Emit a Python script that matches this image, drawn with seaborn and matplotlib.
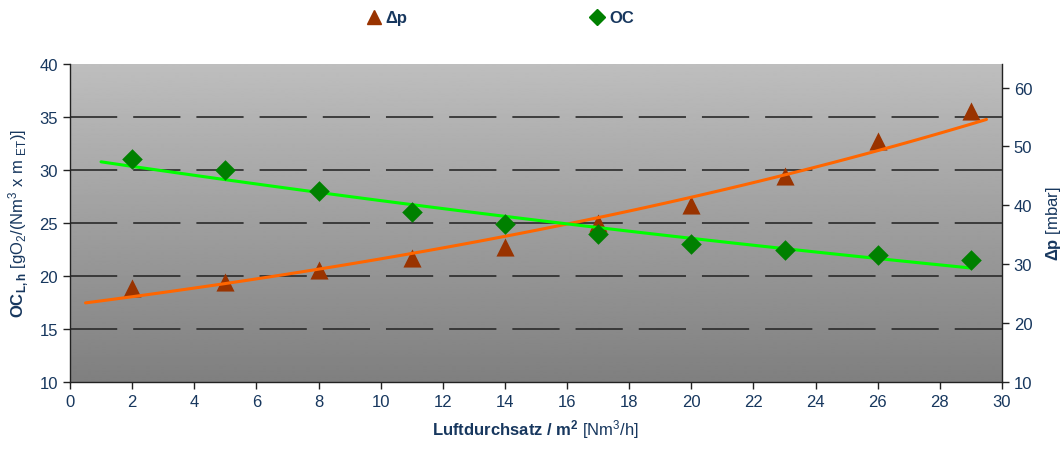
import numpy as np
import pandas as pd
import matplotlib
matplotlib.use("Agg")
import matplotlib.pyplot as plt
from matplotlib.lines import Line2D
import seaborn as sns

# ---- data ----
airflow = [2, 5, 8, 11, 14, 17, 20, 23, 26, 29]
oc_values = [31.0, 30.0, 28.0, 26.0, 24.9, 24.0, 23.0, 22.5, 22.0, 21.5]
dp_values = [26.0, 27.0, 29.0, 31.0, 33.0, 37.0, 40.0, 45.0, 51.0, 56.0]
x_ticks = list(range(0, 31, 2))
left_ticks = [10, 15, 20, 25, 30, 35, 40]
right_ticks = [10, 20, 30, 40, 50, 60]

sns.set_theme(style="ticks")
plt.rcParams['font.family'] = ['Liberation Sans', 'DejaVu Sans']
plt.rcParams['mathtext.fontset'] = 'custom'
plt.rcParams['mathtext.rm'] = 'Liberation Sans'
plt.rcParams['mathtext.bf'] = 'Liberation Sans:bold'
plt.rcParams['mathtext.it'] = 'Liberation Sans:italic'
plt.rcParams['lines.scale_dashes'] = False

navy = '#17375e'
tri_col = '#993300'
dia_col = '#008000'
orange = '#ff6600'
lime = '#00ff00'

df = pd.DataFrame({'x': airflow, 'oc': oc_values, 'dp': dp_values})

# exponential trend lines fitted to the data
kd, ld = np.polyfit(df['x'], np.log(df['dp']), 1)
ko, lo = np.polyfit(df['x'], np.log(df['oc']), 1)
xd = np.linspace(df['x'].min() - 1.5, df['x'].max() + 0.5, 60)
xo = np.linspace(df['x'].min() - 1.0, df['x'].max(), 60)
trend_dp = pd.DataFrame({'x': xd, 'y': np.exp(ld + kd * xd)})
trend_oc = pd.DataFrame({'x': xo, 'y': np.exp(lo + ko * xo)})

fig = plt.figure(figsize=(10.62, 4.52), dpi=100)
rect = [70 / 1062, 1 - 383 / 452, (1002 - 70) / 1062, (383 - 65) / 452]

# background axes: gradient + dashed grid
bg = fig.add_axes(rect, zorder=0)
grad = np.linspace(0.745, 0.50, 256).reshape(-1, 1)
bg.imshow(grad, extent=[0, 30, 10, 40], cmap='gray', vmin=0, vmax=1,
          aspect='auto', zorder=0, interpolation='bilinear')
bg.set_xlim(0, 30)
bg.set_ylim(10, 40)
for v in left_ticks[1:-1]:
    bg.axhline(v, color='#2a2a2a', lw=1.2, linestyle=(0, (34, 11.5)), zorder=1)
bg.axis('off')

ax2 = fig.add_axes(rect, zorder=1)
ax = fig.add_axes(rect, zorder=2, sharex=ax2)
ax.patch.set_visible(False)
ax2.patch.set_visible(False)
ax2.yaxis.tick_right()
ax2.yaxis.set_label_position('right')

ax.set_xlim(0, 30)
ax.set_ylim(10, 40)
ax2.set_ylim(10, 64)
ax.set_xticks(x_ticks)
ax.set_yticks(left_ticks)
ax2.set_yticks(right_ticks)

# dp on right axis
sns.lineplot(data=trend_dp, x='x', y='y', ax=ax2, color=orange, lw=2.2, zorder=3)
sns.scatterplot(data=df, x='x', y='dp', ax=ax2, marker='^', s=170, color=tri_col,
                edgecolor=tri_col, linewidth=0, zorder=2)
# OC on left axis
sns.lineplot(data=trend_oc, x='x', y='y', ax=ax, color=lime, lw=2.2, zorder=3)
sns.scatterplot(data=df, x='x', y='oc', ax=ax, marker='D', s=110, color=dia_col,
                edgecolor=dia_col, linewidth=0, zorder=4)

for a in (ax, ax2):
    a.spines['top'].set_visible(False)
    a.tick_params(colors='#222222', labelcolor=navy, labelsize=12, length=5, width=1,
                  direction='out')
    for s in a.spines.values():
        s.set_color('#222222')
        s.set_linewidth(1)
ax.spines['right'].set_visible(False)
ax2.spines['left'].set_visible(False)
ax2.spines['bottom'].set_visible(False)
ax2.tick_params(axis='x', bottom=False, labelbottom=False)
ax2.set_xlabel('')

ax.set_xlabel(r"$\mathbf{Luftdurchsatz\ /\ m^{2}}$ [Nm$^{3}$/h]", color=navy, fontsize=12, labelpad=6)
ax.set_ylabel(r"$\mathbf{OC_{L,h}}$ [gO$_{2}$/(Nm$^{3}$ x m $_{\mathrm{ET}}$)]", color=navy, fontsize=12, labelpad=6)
ax2.set_ylabel(r"$\mathbf{\Delta p}$ [mbar]", color=navy, fontsize=12, labelpad=8)

handles = [Line2D([], [], marker='^', color=tri_col, ls='', markersize=10),
           Line2D([], [], marker='D', color=dia_col, ls='', markersize=8)]
leg = fig.legend(handles, ['Δp', 'OC'], loc='upper left', bbox_to_anchor=(352 / 1062, 1.008),
                 ncol=2, frameon=False, handlelength=0.8, handletextpad=0.3,
                 columnspacing=11.0, prop={'weight': 'bold', 'size': 12})
for t in leg.get_texts():
    t.set_color(navy)

fig.savefig('out.png', dpi=100)
